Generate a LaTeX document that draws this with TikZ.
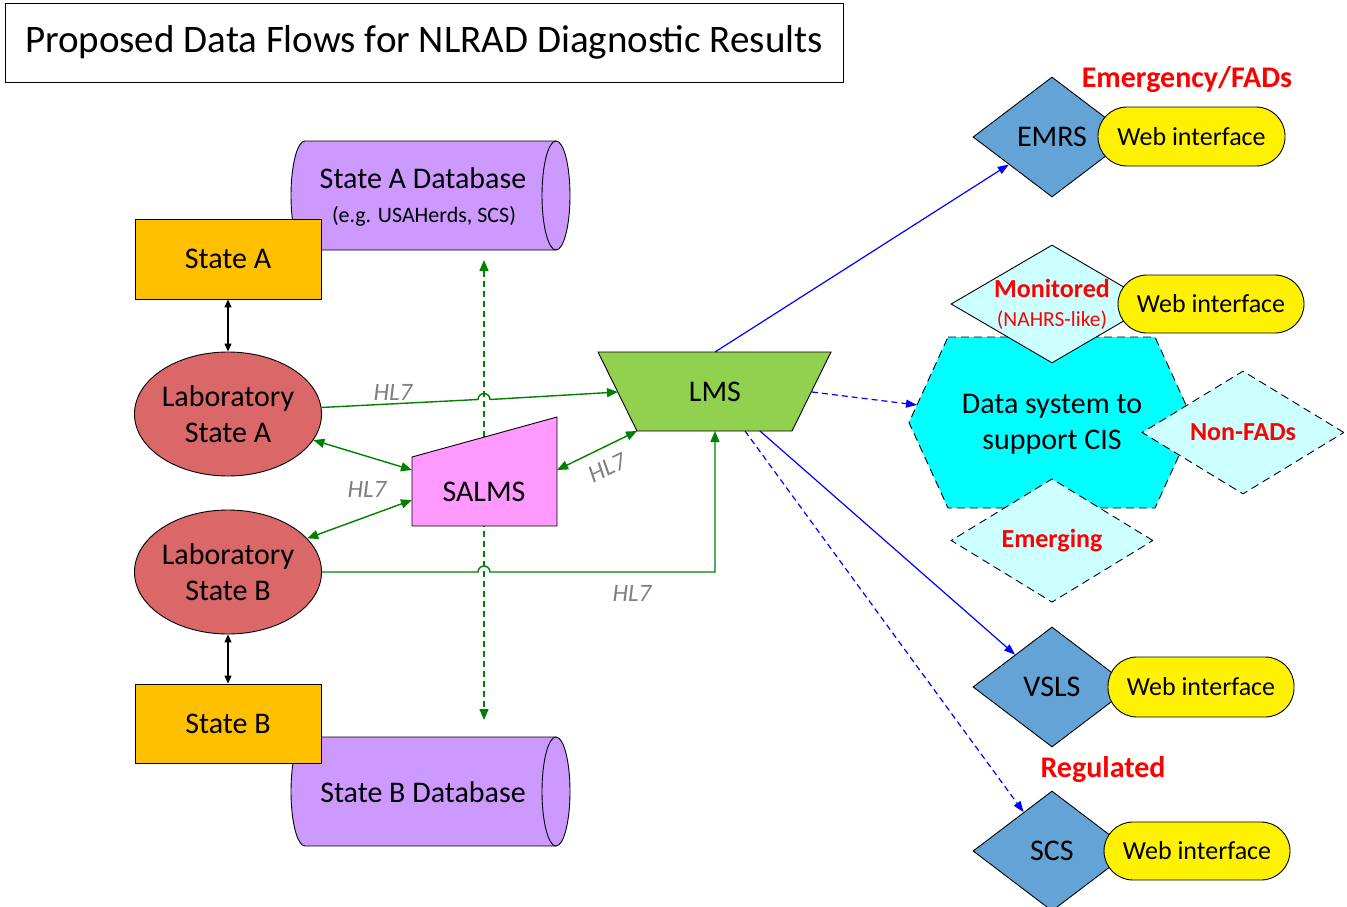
\documentclass[tikz,border=0pt]{standalone}
\usepackage{fontspec}
\setmainfont{Carlito}
\usetikzlibrary{shapes.geometric,arrows.meta}
\definecolor{stateor}{HTML}{FFC000}
\definecolor{labred}{RGB}{218,104,104}
\definecolor{dbpurple}{HTML}{CC99FF}
\definecolor{salmspink}{HTML}{FF99FF}
\definecolor{lmsgreen}{HTML}{92D050}
\definecolor{diamblue}{RGB}{99,163,214}
\definecolor{lightcyan}{HTML}{CCFFFF}
\definecolor{hexcyan}{HTML}{00FFFF}
\definecolor{flowgreen}{HTML}{008000}
\definecolor{hlgray}{HTML}{808080}
\newcommand\fsz[2]{\fontsize{#1pt}{#2pt}\selectfont}
\begin{document}
\begin{tikzpicture}[x=1pt,y=-1pt,
  shapeline/.style={draw=black, line width=0.9pt},
  statebox/.style={shapeline, fill=stateor, minimum width=186pt, minimum height=80pt, inner sep=0pt, font=\fsz{30}{36}},
  labell/.style={shapeline, ellipse, fill=labred, minimum width=186pt, minimum height=124pt, inner sep=0pt, align=center, font=\fsz{30}{36}},
  txt/.style={inner sep=0pt, font=\fsz{30}{36}},
  bdiam/.style={shapeline, diamond, fill=diamblue, minimum width=158pt, minimum height=120pt, inner sep=0pt, font=\fsz{30}{36}},
  ldiam/.style={shapeline, diamond, fill=lightcyan, minimum width=202pt, minimum height=117pt, inner sep=0pt, font=\fsz{26}{31}\bfseries, text=red},
  pill/.style={shapeline, fill=yellow, rounded corners=29pt, minimum width=187pt, minimum height=59pt, inner sep=0pt, font=\fsz{26}{31}},
  hl/.style={inner sep=0pt, text=hlgray, font=\fsz{25}{30}\itshape},
  redlbl/.style={inner sep=0pt, text=red, font=\fsz{30}{36}\bfseries},
  gflow/.style={draw=flowgreen, line width=1.4pt},
  bflow/.style={draw=blue, line width=1.2pt},
  gtip/.tip={Triangle[length=11pt,width=9pt]},
  btip/.tip={Triangle[length=11pt,width=8pt]},
  ktip/.tip={Triangle[length=8pt,width=7pt]},
  longdash/.style={dash pattern=on 8pt off 5pt}
]
\useasboundingbox (0,0) rectangle (1347,907);

% title
\node[draw=black, line width=0.9pt, minimum width=838pt, minimum height=79pt, inner sep=0pt, font=\fsz{39}{47}] (title) at (424,42.5) {Proposed Data Flows for NLRAD Diagnostic Results};

% databases (cylinders)
\path[shapeline, fill=dbpurple] (305,141) -- (556,141)
  arc[start angle=90, end angle=-90, x radius=14pt, y radius=54.5pt]
  -- (305,250) arc[start angle=270, end angle=90, x radius=14pt, y radius=54.5pt] -- cycle;
\draw[line width=0.9pt] (556,141) arc[start angle=90, end angle=270, x radius=14pt, y radius=54.5pt];
\node[txt] (dbA) at (423,178) {State A Database};
\node[txt, font=\fsz{22}{26}] (dbAsub) at (424,216) {(e.g. USAHerds, SCS)};

\path[shapeline, fill=dbpurple] (305,737) -- (556,737)
  arc[start angle=90, end angle=-90, x radius=14pt, y radius=54.5pt]
  -- (305,846) arc[start angle=270, end angle=90, x radius=14pt, y radius=54.5pt] -- cycle;
\draw[line width=0.9pt] (556,737) arc[start angle=90, end angle=270, x radius=14pt, y radius=54.5pt];
\node[txt] (dbB) at (423,792) {State B Database};

% state boxes
\node[statebox] (stA) at (228,259) {State A};
\node[statebox, minimum height=79pt] (stB) at (228,723.5) {State B};

% labs
\node[labell] (labA) at (228,414) {Laboratory\\State A};
\node[labell] (labB) at (228,572) {Laboratory\\State B};

% vertical dashed green link
\coordinate (dbtop) at (484,260);
\coordinate (dbbot) at (484,720);
\draw[gflow, dash pattern=on 6pt off 4pt, {gtip}-{gtip}] (dbtop) -- (dbbot);

% SALMS
\path[shapeline, fill=salmspink] (412,457) -- (557,417) -- (557,526) -- (412,526) -- cycle;
\node[txt] (salms) at (484,492) {SALMS};
\coordinate (salmsL1) at (412,470);
\coordinate (salmsL2) at (412,500);
\coordinate (salmsR) at (557,470);

% LMS
\path[shapeline, fill=lmsgreen] (598,352) -- (831,352) -- (792,431) -- (637,431) -- cycle;
\node[txt] (lms) at (715,392) {LMS};
\coordinate (lmsL) at (618,392);
\coordinate (lmsBL) at (637,431);
\coordinate (lmsB) at (715,431);
\coordinate (lmsT) at (715,352);
\coordinate (lmsR) at (812,392);
\coordinate (lmsB1) at (745,431);
\coordinate (lmsB2) at (760,431);

% black links
\draw[line width=1.1pt, {ktip}-{ktip}] (stA.south) -- (labA.north);
\draw[line width=1.1pt, {ktip}-{ktip}] (labB.south) -- (stB.north);

% green flows
\coordinate (hop1) at (478,399.5);
\coordinate (hop2) at (478,572);
\coordinate (turn) at (715,572);
\draw[gflow, -{gtip}] (labA.4) -- (hop1) arc[start angle=180, end angle=0, radius=6pt] -- (lmsL);
\draw[gflow, {gtip}-{gtip}] (labA.-17) -- (salmsL1);
\draw[gflow, {gtip}-{gtip}] (labB.23) -- (salmsL2);
\draw[gflow, {gtip}-{gtip}] (salmsR) -- (lmsBL);
\draw[gflow, -{gtip}] (labB.east) -- (hop2) arc[start angle=180, end angle=0, radius=6pt] -- (turn) -- (lmsB);

\node[hl] (hl1) at (393,392) {HL7};
\node[hl] (hl2) at (367,489) {HL7};
\node[hl, rotate=26] (hl3) at (607,468) {HL7};
\node[hl] (hl4) at (632,593) {HL7};

% right side: data system hexagon
\path[shapeline, fill=hexcyan, longdash] (948,337) -- (1155,337) -- (1194,422.5) -- (1155,508) -- (948,508) -- (909,422.5) -- cycle;
\coordinate (hexin) at (917,405);
\node[txt, align=center] (cis) at (1052,424) {Data system to\\support CIS};

\node[ldiam, minimum height=118pt] (mon) at (1052,304) {};
\node[inner sep=0pt, text=red, font=\fsz{26}{31}\bfseries] (monA) at (1052,288) {Monitored};
\node[inner sep=0pt, text=red, font=\fsz{21.5}{26}] (monB) at (1052,320) {(NAHRS-like)};
\node[pill, minimum width=186pt, minimum height=58pt] (w2) at (1211,304) {Web interface};

\node[ldiam, longdash] (nonfad) at (1243,432.5) {Non-FADs};
\node[ldiam, longdash] (emerg) at (1052,540.5) {Emerging};

% EMRS
\node[bdiam] (emrs) at (1052,137) {EMRS};
\node[pill] (w1) at (1191.5,136.5) {Web interface};
\node[redlbl] (emlbl) at (1187,80) {Emergency/FADs};

% VSLS
\node[bdiam] (vsls) at (1052,687) {VSLS};
\node[pill, minimum width=186pt, minimum height=60pt] (w3) at (1201,687) {Web interface};
\node[redlbl] (reglbl) at (1103,770) {Regulated};

% SCS
\node[bdiam] (scs) at (1052,851) {SCS};
\node[pill, minimum width=186pt, minimum height=58pt] (w4) at (1197,851) {Web interface};

% blue flows
\draw[bflow, -{btip}] (lmsT) -- (emrs);
\draw[bflow, dash pattern=on 6pt off 4pt, -{btip}] (lmsR) -- (hexin);
\draw[bflow, -{btip}] (lmsB2) -- (vsls);
\draw[bflow, dash pattern=on 6pt off 4pt, -{btip}] (lmsB1) -- (scs);
\end{tikzpicture}
\end{document}
